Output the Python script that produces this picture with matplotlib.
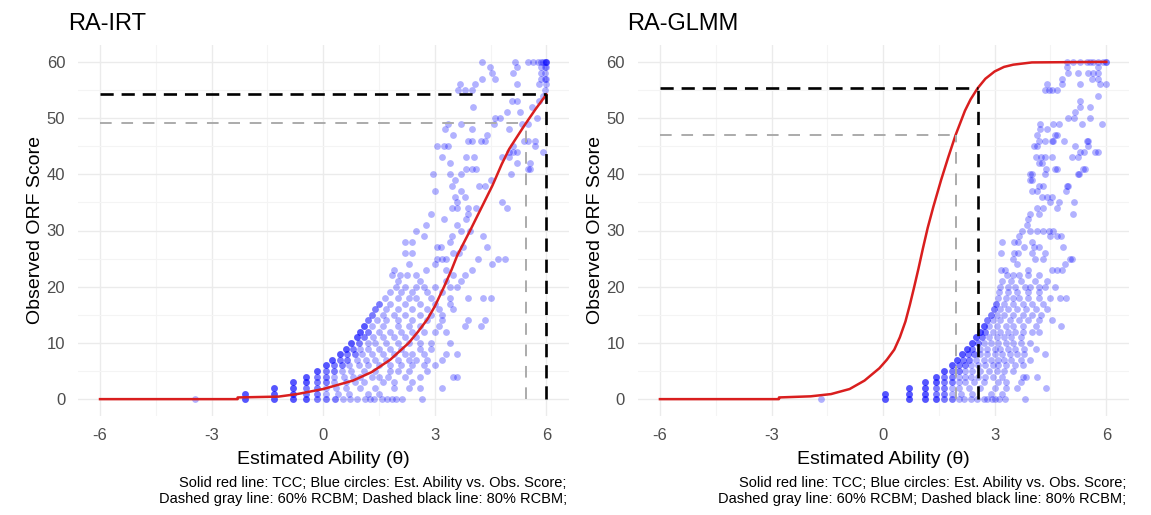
import matplotlib.pyplot as plt

plt.rcParams["font.family"] = ["Liberation Sans", "DejaVu Sans"]
plt.rcParams["axes.unicode_minus"] = False

W, H = 1151, 515

# observed ORF score rows: (score, estimated abilities of the students with that score);
# repeated abilities are students sharing the same estimate
irt_obs = [
    (0, [-3.45, -2.1, -2.1, -2.1, -1.31, -1.31, -1.31, -0.82, -0.82, -0.82, -0.47, -0.47, -0.47, -0.17, -0.17,
         0.08, 0.08, 0.33, 0.33, 0.52, 0.72, 0.92, 1.12, 1.27, 1.37, 1.57, 1.72, 1.86, 1.96, 2.11, 2.66]),
    (1, [-2.1, -2.1, -2.1, -1.31, -1.31, -1.31, -0.82, -0.82, -0.82, -0.47, -0.47, -0.17, -0.17, 0.08, 0.4, 0.7,
         1.2, 1.5]),
    (2, [-1.31, -1.31, -1.31, -0.82, -0.82, -0.82, -0.47, -0.47, -0.17, -0.17, 0.08, 0.35, 0.6, 1.0, 1.4, 1.9,
         2.3, 2.6, 3.2]),
    (3, [-0.82, -0.82, -0.82, -0.47, -0.47, -0.47, -0.17, -0.17, 0.08, 0.08, 0.3, 0.6, 0.85, 1.1, 1.6, 1.9, 2.4]),
    (4, [-0.47, -0.47, -0.47, -0.17, -0.17, 0.08, 0.08, 0.3, 0.55, 0.8, 1.0, 1.3, 1.5, 1.75, 2.2, 2.6, 3.5, 3.6]),
    (5, [-0.17, -0.17, -0.17, 0.08, 0.08, 0.3, 0.3, 0.5, 0.75, 1.1, 1.4, 1.8, 2.0, 2.3, 2.8]),
    (6, [0.08, 0.08, 0.08, 0.3, 0.3, 0.5, 0.5, 0.7, 0.95, 1.2, 1.5, 1.8, 2.1, 2.4, 2.7, 3.0]),
    (7, [0.25, 0.25, 0.25, 0.45, 0.45, 0.65, 0.65, 0.9, 1.15, 1.4, 1.7, 2.0, 2.3, 2.5, 2.8, 3.2]),
    (8, [0.45, 0.45, 0.45, 0.65, 0.65, 0.85, 0.85, 1.05, 1.3, 1.6, 1.9, 2.2, 2.4, 2.7, 3.3, 3.6]),
    (9, [0.6, 0.6, 0.6, 0.8, 0.8, 1.0, 1.2, 1.5, 1.8, 2.1, 2.6, 2.9]),
    (10, [0.75, 0.75, 0.75, 0.95, 0.95, 1.2, 1.4, 1.7, 2.0, 2.3, 2.6, 2.9, 3.4]),
    (11, [0.9, 0.9, 0.9, 1.1, 1.1, 1.35, 1.6, 1.9, 2.2, 2.5]),
    (12, [1.0, 1.0, 1.0, 1.2, 1.2, 1.5, 1.8, 2.1, 2.4, 2.7, 3.0, 3.3]),
    (13, [1.1, 1.1, 1.1, 1.3, 1.6, 2.0, 2.3, 2.6, 3.1, 3.8, 4.25]),
    (14, [1.2, 1.2, 1.45, 1.7, 2.0, 2.4, 2.8, 3.2, 3.9, 4.35]),
    (15, [1.3, 1.3, 1.6, 1.9, 2.2, 2.6, 2.9, 3.2]),
    (16, [1.4, 1.4, 1.7, 2.0, 2.4, 2.8, 3.1, 3.5]),
    (17, [1.5, 1.5, 1.8, 2.2, 2.6, 3.0, 3.4]),
    (18, [1.65, 2.0, 2.3, 2.5, 2.9, 3.4, 3.9, 4.3, 4.5]),
    (19, [1.8, 2.1, 2.4, 2.8, 3.2]),
    (20, [1.95, 2.2, 2.5, 2.7, 3.0, 3.4, 3.6]),
    (21, [2.0, 2.6, 3.3, 3.7]),
    (22, [1.86, 2.06, 2.26, 2.5, 3.5, 3.8]),
    (23, [1.9, 2.76, 3.3, 4.0]),
    (24, [2.3, 3.0, 4.55]),
    (25, [3.06, 3.2, 3.3, 4.15, 4.7, 4.9]),
    (26, [2.2, 2.4, 3.5, 3.65]),
    (27, [3.06, 3.16, 3.75, 4.4]),
    (28, [2.2, 2.4, 3.4]),
    (29, [2.7, 3.45, 4.3]),
    (30, [2.5, 3.7, 3.95]),
    (31, [2.76, 3.6]),
    (32, [3.25, 3.85]),
    (33, [2.9, 3.9]),
    (34, [3.45, 3.6, 3.9, 4.1, 4.95]),
    (35, [3.6, 4.8]),
    (36, [3.55, 3.8]),
    (37, [3.0, 3.7]),
    (38, [3.45, 4.2, 4.35]),
    (39, [3.55, 4.5]),
    (40, [2.96, 3.4, 3.7, 5.05]),
    (41, [3.85, 4.0, 4.1, 5.5, 5.55]),
    (42, [3.4, 5.2, 5.55]),
    (43, [3.2, 3.85, 4.05, 4.8, 5.0]),
    (44, [5.0, 5.1, 5.2, 5.9]),
    (45, [3.06, 3.25, 3.35, 5.1, 5.7]),
    (46, [3.9, 4.0, 4.25, 4.36, 5.4, 5.5, 5.7]),
    (47, [3.5, 4.4]),
    (48, [3.28, 4.0, 5.0]),
    (49, [3.36, 3.7, 4.6, 5.35, 5.5]),
    (50, [4.63, 4.75, 5.75]),
    (51, [4.94, 5.3]),
    (52, [4.03, 5.6]),
    (53, [5.07, 5.2, 5.8]),
    (54, [5.9]),
    (55, [3.63, 3.8, 4.0, 5.95]),
    (56, [3.69, 4.09, 5.2, 5.8, 6.0]),
    (57, [4.27, 4.63, 5.85, 5.95, 6.0]),
    (58, [4.54, 5.11, 5.85, 5.95]),
    (59, [4.49, 5.2, 5.85, 5.95, 6.0]),
    (60, [4.27, 5.16, 5.5, 5.65, 5.77, 5.85, 5.9, 5.95, 6.0, 6.0, 6.0]),
]

glmm_obs = [
    (0, [-1.67, 0.05, 0.05, 0.05, 0.7, 0.7, 0.7, 1.13, 1.13, 1.13, 1.41, 1.41, 1.41, 1.63, 1.63, 1.86, 1.86,
         2.04, 2.17, 2.35, 2.53, 2.71, 2.8, 2.93, 3.0, 3.11, 3.29, 3.82]),
    (1, [0.05, 0.05, 0.05, 0.7, 0.7, 0.7, 1.13, 1.13, 1.13, 1.41, 1.41, 1.63, 1.63, 1.86, 2.1, 2.4, 2.9, 3.2]),
    (2, [0.7, 0.7, 0.7, 1.13, 1.13, 1.13, 1.41, 1.41, 1.63, 1.63, 1.86, 2.04, 2.3, 2.6, 3.0, 3.3, 3.6, 4.39]),
    (3, [1.13, 1.13, 1.13, 1.41, 1.41, 1.41, 1.63, 1.63, 1.86, 1.86, 2.04, 2.2, 2.45, 2.7, 3.1, 3.3, 3.7]),
    (4, [1.41, 1.41, 1.41, 1.63, 1.63, 1.86, 1.86, 2.04, 2.2, 2.35, 2.55, 2.75, 2.95, 3.2, 3.75, 3.85, 4.15]),
    (5, [1.63, 1.63, 1.63, 1.86, 1.86, 2.04, 2.04, 2.2, 2.4, 2.6, 2.85, 3.05, 3.25, 3.5]),
    (6, [1.85, 1.85, 1.85, 2.04, 2.04, 2.2, 2.2, 2.35, 2.55, 2.75, 2.95, 3.1, 3.3, 3.55, 3.75]),
    (7, [2.0, 2.0, 2.0, 2.15, 2.15, 2.3, 2.3, 2.5, 2.7, 2.9, 3.1, 3.25, 3.45, 3.7, 3.95]),
    (8, [2.12, 2.12, 2.12, 2.28, 2.28, 2.45, 2.45, 2.6, 2.8, 3.0, 3.2, 3.4, 3.6, 3.8, 4.34]),
    (9, [2.25, 2.25, 2.25, 2.4, 2.4, 2.6, 2.8, 3.0, 3.15, 3.35, 3.55, 3.8, 4.1]),
    (10, [2.38, 2.38, 2.38, 2.55, 2.55, 2.7, 2.9, 3.1, 3.3, 3.5, 3.7, 3.95]),
    (11, [2.5, 2.5, 2.5, 2.65, 2.65, 2.85, 3.05, 3.25, 3.45, 3.7]),
    (12, [2.6, 2.6, 2.6, 2.75, 2.75, 2.95, 3.15, 3.35, 3.55, 3.75, 4.0, 4.2]),
    (13, [2.7, 2.7, 2.7, 2.85, 3.05, 3.3, 3.5, 3.75, 4.1, 4.78]),
    (14, [2.8, 2.8, 2.95, 3.15, 3.4, 3.65, 3.9, 4.2, 4.54]),
    (15, [2.9, 2.9, 3.05, 3.25, 3.5, 3.75, 4.0, 4.25]),
    (16, [2.97, 2.97, 3.15, 3.35, 3.6, 3.85, 4.1, 4.4]),
    (17, [3.03, 3.03, 3.25, 3.5, 3.75, 4.0, 4.3]),
    (18, [3.08, 3.3, 3.5, 3.65, 3.9, 4.2, 4.5, 4.75, 4.93]),
    (19, [3.12, 3.35, 3.6, 3.9, 4.2]),
    (20, [3.15, 3.35, 3.55, 3.82, 3.96, 4.2, 4.36, 4.63]),
    (21, [3.2, 3.45, 3.7, 4.09, 4.4]),
    (22, [3.32, 3.5, 3.66, 3.9, 4.2]),
    (23, [3.17, 3.29, 3.9, 4.54, 4.67, 4.8]),
    (24, [3.6, 4.88]),
    (25, [3.5, 4.09, 4.3, 5.02, 5.07]),
    (26, [3.17, 3.51, 3.64, 4.0, 4.36]),
    (27, [3.8, 4.05, 4.18, 4.83]),
    (28, [3.2, 3.51, 3.64, 4.0]),
    (29, [3.66, 4.5, 4.67, 4.78]),
    (30, [3.73, 3.95, 4.15, 4.31, 4.45, 4.58]),
    (31, [3.87]),
    (32, [3.9]),
    (33, [3.95, 4.2, 5.1]),
    (34, [4.15, 4.31, 4.67]),
    (35, [4.5, 4.72, 5.12]),
    (36, [4.27, 4.4, 4.55]),
    (37, [4.0, 4.14, 4.93]),
    (38, [4.2, 4.3, 4.94, 4.98]),
    (39, [3.95, 4.0]),
    (40, [3.95, 4.0, 4.34, 5.25, 5.27]),
    (41, [4.39, 4.63, 4.67, 5.37, 5.43]),
    (42, [4.2, 4.27]),
    (43, [4.1, 4.25, 4.36, 4.54, 5.07, 5.25]),
    (44, [5.3, 5.41, 5.7, 5.79]),
    (45, [4.05, 4.14, 5.16, 5.52]),
    (46, [4.18, 4.34, 4.54, 4.58, 4.85, 5.47, 5.5]),
    (47, [4.15, 4.63, 4.67]),
    (48, [4.22, 4.4]),
    (49, [4.22, 4.58, 4.72, 5.34, 5.88]),
    (50, [4.98, 5.12, 5.56]),
    (51, [5.16]),
    (52, [5.3, 5.56]),
    (53, [5.3]),
    (54, [5.79]),
    (55, [4.36, 4.45, 4.54, 4.67]),
    (56, [4.4, 4.8, 5.3, 5.83, 6.0]),
    (57, [4.8, 5.61, 5.79]),
    (58, [4.98, 5.25, 5.52, 5.65, 5.79]),
    (59, [4.94, 5.79]),
    (60, [4.94, 5.1, 5.3, 5.47, 5.56, 5.65, 5.79, 5.9, 6.0, 6.0]),
]

# test characteristic curves
irt_tcc_theta = [-6, -2.3, -2.3, -1.2, -0.7, 0, 0.8, 1.3, 1.8, 2.3, 2.55, 2.8, 3.0, 3.25, 3.45,
                 3.6, 3.95, 4.25, 4.55, 4.8, 5.0, 5.4, 5.7, 6.0]
irt_tcc_score = [0, 0, 0.3, 0.45, 0.9, 1.8, 3.3, 4.8, 7.0, 10.0, 12.0, 14.2, 16.5, 20.0, 23.0,
                 25.5, 30.0, 34.0, 38.0, 41.8, 44.5, 48.6, 51.5, 54.2]
glmm_tcc_theta = [-6, -2.8, -2.8, -1.95, -1.4, -0.9, -0.5, -0.1, 0.1, 0.3, 0.45, 0.6, 0.72, 0.83,
                  0.95, 1.07, 1.2, 1.35, 1.56, 1.75, 1.95, 2.2, 2.35, 2.54, 2.75, 3.0, 3.25, 3.5,
                  4.0, 6]
glmm_tcc_score = [0, 0, 0.3, 0.5, 0.9, 1.8, 3.3, 5.5, 7.0, 8.8, 11.0, 13.8, 16.8, 19.8,
                  23.2, 26.8, 30.5, 34.2, 39.0, 43.0, 47.0, 51.3, 53.3, 55.3, 57.0, 58.3, 59.1, 59.5,
                  59.9, 60]

# RCBM cut points: (theta, score) for 60% and 80%
irt_cut60 = (5.44, 49.1)
irt_cut80 = (6.0, 54.2)
glmm_cut60 = (1.95, 47.0)
glmm_cut80 = (2.54, 55.3)

x_ticks = [-6, -3, 0, 3, 6]
y_ticks = [0, 10, 20, 30, 40, 50, 60]

footer = ("Solid red line: TCC; Blue circles: Est. Ability vs. Obs. Score;\n"
          "Dashed gray line: 60% RCBM; Dashed black line: 80% RCBM;")


def draw_panel(ax, obs, tcc_theta, tcc_score, cut60, cut80):
    th = [t for s, ts in obs for t in ts]
    sc = [s for s, ts in obs for t in ts]
    ax.scatter(th, sc, s=24, color="#0000FF", alpha=0.3, linewidths=0, zorder=2)
    ax.plot(tcc_theta, tcc_score, color="#D91E1E", lw=1.8, zorder=3)
    for (t, s), col, lw, dash in [(cut60, "#ABABAB", 1.4, (6, 5)), (cut80, "black", 1.9, (5, 3))]:
        ax.plot([-6, t], [s, s], color=col, lw=lw, dashes=dash, zorder=4)
        ax.plot([t, t], [0, s], color=col, lw=lw, dashes=dash, zorder=4)

    ax.set_xlim(-6.6, 6.6)
    ax.set_ylim(-3, 63)
    ax.set_xticks(x_ticks)
    ax.set_yticks(y_ticks)
    ax.set_xticks([-4.5, -1.5, 1.5, 4.5], minor=True)
    ax.set_yticks([5, 15, 25, 35, 45, 55], minor=True)
    ax.grid(True, which="major", color="#EBEBEB", lw=1.0, zorder=0)
    ax.grid(True, which="minor", color="#F4F4F4", lw=0.8, zorder=0)
    ax.set_axisbelow(True)
    ax.tick_params(which="both", length=0, labelsize=12, labelcolor="#4D4D4D", pad=9)
    for sp in ax.spines.values():
        sp.set_visible(False)


fig = plt.figure(figsize=(W / 100, H / 100), dpi=100)

panels = [
    ("RA-IRT", 77.7, irt_obs, irt_tcc_theta, irt_tcc_score, irt_cut60, irt_cut80),
    ("RA-GLMM", 637.6, glmm_obs, glmm_tcc_theta, glmm_tcc_score, glmm_cut60, glmm_cut80),
]
for title, left_px, obs, tt, ts, c60, c80 in panels:
    width_px = 491
    ax = fig.add_axes([left_px / W, (H - 416) / H, width_px / W, 371 / H])
    draw_panel(ax, obs, tt, ts, c60, c80)
    fig.text((left_px - 10) / W, 1 - 30 / H, title, fontsize=17, va="baseline", ha="left")
    fig.text((left_px + width_px / 2) / W, 1 - 460 / H, "Estimated Ability (θ)",
             fontsize=14, ha="center", va="center")
    fig.text((left_px - 42) / W, 1 - 230 / H, "Observed ORF Score", rotation=90,
             fontsize=14, ha="center", va="center")
    fig.text((left_px + width_px - 2) / W, 1 - 491 / H, footer, fontsize=10.5,
             ha="right", va="center", multialignment="right", linespacing=1.25)

fig.savefig("out.png", dpi=100)
